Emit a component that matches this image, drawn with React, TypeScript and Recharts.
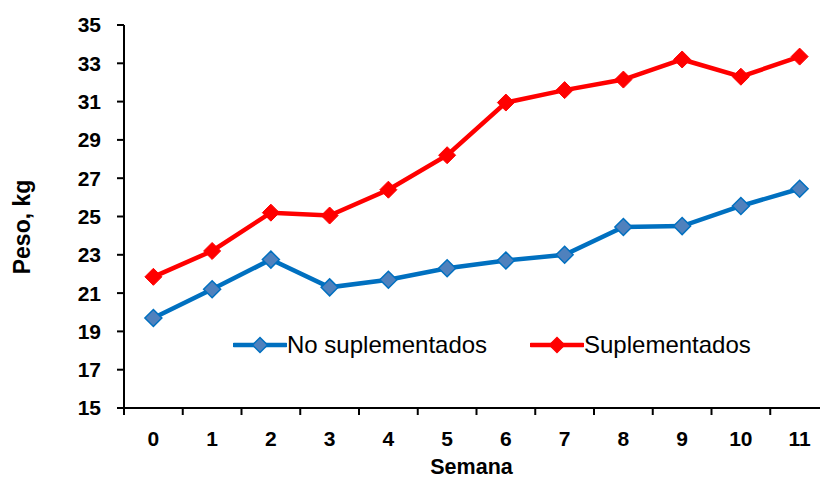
import { LineChart, Line, XAxis, YAxis, Legend, Label } from "recharts";

const weeks = ["0", "1", "2", "3", "4", "5", "6", "7", "8", "9", "10", "11"];
const noSuplementados = [19.7, 21.2, 22.75, 21.3, 21.7, 22.3, 22.7, 23.0, 24.45, 24.5, 25.55, 26.45];
const suplementados = [21.85, 23.2, 25.2, 25.05, 26.4, 28.2, 30.95, 31.6, 32.15, 33.2, 32.3, 33.35];
const yTicks = [15, 17, 19, 21, 23, 25, 27, 29, 31, 33, 35];

const data = weeks.map((w, i) => ({ week: w, no: noSuplementados[i], si: suplementados[i] }));

const FONT = '"Liberation Sans", Arial, sans-serif';
const BLUE = "#0070C0";
const BLUE_FILL = "#4F81BD";
const RED = "#FF0000";

const W = 840;
const H = 481;
const MARGIN = { top: 25, right: 11, bottom: 0, left: 0 };
const Y_W = 124;
const X_H = 73;
const BAND = (W - MARGIN.right - Y_W) / weeks.length;
const TICK = 7;
const TICK_GAP = 16;

function diamond(cx: number, cy: number, r: number) {
  return `M${cx},${cy - r}L${cx + r},${cy}L${cx},${cy + r}L${cx - r},${cy}Z`;
}

const blueDot = (p: any) => (
  <path key={`b${p.index}`} d={diamond(p.cx, p.cy, 8.5)} fill={BLUE_FILL} stroke={BLUE} strokeWidth={1.5} />
);
const redDot = (p: any) => <path key={`r${p.index}`} d={diamond(p.cx, p.cy, 8.5)} fill={RED} stroke={RED} strokeWidth={1} />;

function WeekTick({ x, y, payload, index }: any) {
  const axisY = y - TICK - TICK_GAP;
  return (
    <g>
      {index === 0 && <line x1={x - BAND / 2} y1={axisY} x2={x - BAND / 2} y2={axisY + TICK} stroke="#000" strokeWidth={2} />}
      <line x1={x + BAND / 2} y1={axisY} x2={x + BAND / 2} y2={axisY + TICK} stroke="#000" strokeWidth={2} />
      <text x={x} y={y} dy="0.71em" textAnchor="middle" fontFamily={FONT} fontSize={21} fontWeight="bold" fill="#000">
        {payload.value}
      </text>
    </g>
  );
}

function LegendItem({ label, color, fill, left }: { label: string; color: string; fill: string; left: number }) {
  return (
    <div style={{ position: "absolute", left, top: 0, display: "flex", alignItems: "center", height: 30 }}>
      <svg width={54} height={20}>
        <line x1={1} y1={10} x2={53} y2={10} stroke={color} strokeWidth={4.5} strokeLinecap="round" />
        <path d={diamond(27, 10, 7.5)} fill={fill} stroke={color} strokeWidth={1.5} />
      </svg>
      <span style={{ fontFamily: FONT, fontSize: 24, color: "#000", whiteSpace: "nowrap" }}>{label}</span>
    </div>
  );
}

const renderLegend = () => (
  <div style={{ position: "relative", width: 540, height: 30 }}>
    <LegendItem label="No suplementados" color={BLUE} fill={BLUE_FILL} left={0} />
    <LegendItem label="Suplementados" color={RED} fill={RED} left={297} />
  </div>
);

export default function App() {
  return (
    <div style={{ position: "absolute", left: 0, top: 0, width: 820, height: 481, overflow: "hidden", background: "#fff" }}>
      <LineChart width={W} height={H} data={data} margin={MARGIN}>
        <XAxis
          dataKey="week"
          height={X_H}
          padding={{ left: BAND / 2, right: BAND / 2 }}
          axisLine={{ stroke: "#000", strokeWidth: 2 }}
          tickLine={false}
          tickSize={TICK}
          tickMargin={TICK_GAP}
          interval={0}
          tick={<WeekTick />}
        >
          <Label value="Semana" position="insideBottom" offset={7} dx={-5} style={{ fontFamily: FONT, fontSize: 21.5, fontWeight: "bold", fill: "#000" }} />
        </XAxis>
        <YAxis
          width={Y_W}
          domain={[15, 35]}
          ticks={yTicks}
          interval={0}
          axisLine={{ stroke: "#000", strokeWidth: 2 }}
          tickLine={{ stroke: "#000", strokeWidth: 2 }}
          tickSize={TICK}
          tickMargin={TICK_GAP}
          tick={{ fontFamily: FONT, fontSize: 21, fontWeight: "bold", fill: "#000" }}
        >
          <Label
            content={() => (
              <text
                transform="translate(22,227) rotate(-90)"
                textAnchor="middle"
                dominantBaseline="central"
                fontFamily={FONT}
                fontSize={23}
                fontWeight="bold"
                fill="#000"
              >
                Peso, kg
              </text>
            )}
          />
        </YAxis>
        <Legend
          layout="horizontal"
          verticalAlign="middle"
          content={renderLegend}
          wrapperStyle={{ position: "absolute", left: 233, top: 330, width: 540 }}
        />
        <Line dataKey="no" name="No suplementados" stroke={BLUE} strokeWidth={4.5} dot={blueDot} activeDot={false} isAnimationActive={false} />
        <Line dataKey="si" name="Suplementados" stroke={RED} strokeWidth={4.5} dot={redDot} activeDot={false} isAnimationActive={false} />
      </LineChart>
    </div>
  );
}
